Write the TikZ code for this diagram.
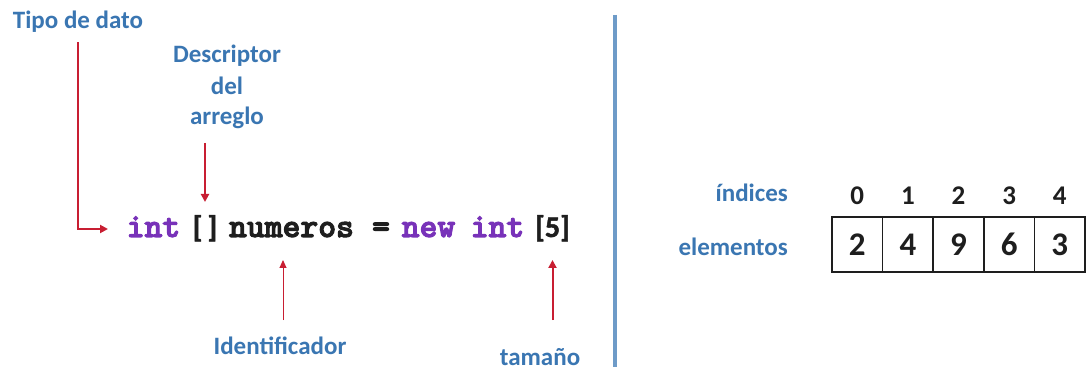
\documentclass[tikz,border=0pt]{standalone}
\usepackage{fontspec}
\setmainfont{Carlito}
\newfontfamily\codefont[FakeBold=3]{lmmonolt10-bold.otf}
\newfontfamily\brfont[FakeBold=1.5]{Carlito}
\usetikzlibrary{arrows.meta,calc}
\definecolor{lblue}{RGB}{58,118,178}
\definecolor{sepblue}{RGB}{110,155,200}
\definecolor{arrred}{RGB}{200,30,50}
\definecolor{kw}{RGB}{120,50,185}
\definecolor{ink}{RGB}{30,30,30}
\begin{document}
\begin{tikzpicture}[x=1pt,y=-1pt,
  lbl/.style={font=\fontsize{25}{28}\selectfont\bfseries, text=lblue, inner sep=0pt, anchor=base},
  codetok/.style={font=\codefont\fontsize{34}{34}\selectfont, inner sep=0pt, anchor=base, text=ink},
  punct/.style={font=\brfont\fontsize{30}{30}\selectfont\bfseries, inner sep=0pt, anchor=base, text=ink},
  redarrow/.style={draw=arrred, line width=2pt, -{Triangle[length=8pt,width=8pt]}},
  thinarrow/.style={draw=arrred, line width=1pt, -{Triangle[length=8pt,width=7pt]}},
  cell/.style={draw=ink, line width=1.5pt, minimum width=50.6pt, minimum height=55pt, inner sep=0pt, font=\fontsize{33}{33}\selectfont\bfseries, text=ink},
  idx/.style={font=\fontsize{27}{27}\selectfont\bfseries, text=ink, inner sep=0pt, anchor=base}
]
\useasboundingbox[fill=white] (0,0) rectangle (1089,371);

% labels
\node[lbl] (tipo) at (78,29) {Tipo de dato};
\node[lbl] (desc1) at (227,63) {Descriptor};
\node[lbl] (desc2) at (227,95) {del};
\node[lbl] (desc3) at (227,125) {arreglo};
\node[lbl] (ident) at (280,354) {Identificador};
\node[lbl] (tam) at (540,365) {tamaño};

% code line
\node[codetok, text=kw] (int1) at (153.5,237) {int};
\node[punct] (br1) at (205,237) {[\hspace{5pt}]};
\node[codetok] (num) at (291.5,237) {numeros};
\node[codetok] (eq) at (381,237) {=};
\node[codetok, text=kw] (new) at (428.5,237) {new};
\node[codetok, text=kw] (int2) at (497.5,237) {int};
\node[punct] (size) at (552.5,237) {[5]};

% arrows
\draw[redarrow] ([yshift=-9pt]tipo.south) |- ($(int1.base)+(-45.5,-8)$);
\draw[redarrow] ($(br1.base |- desc3.base)+(0,18)$) -- ($(br1.base)+(0,-35)$);
\draw[thinarrow] ($(num.base)+(-8.5,83)$) -- ($(num.base)+(-8.5,23)$);
\draw[redarrow] ($(size.base)+(0,83)$) -- ($(size.base)+(0,23)$);

% separator
\draw[draw=sepblue, line width=4pt] (615,15) -- (615,367);

% array
\node[lbl, anchor=base east] (ind) at (788,202) {índices};
\node[lbl, anchor=base east] (elem) at (788,256) {elementos};
\node[cell] (c0) at (857.3,244.5) {2};
\node[cell] (c1) at (907.9,244.5) {4};
\node[cell] (c2) at (958.5,244.5) {9};
\node[cell] (c3) at (1009.1,244.5) {6};
\node[cell] (c4) at (1059.7,244.5) {3};
\node[idx] (i0) at (857.3,205) {0};
\node[idx] (i1) at (907.9,205) {1};
\node[idx] (i2) at (958.5,205) {2};
\node[idx] (i3) at (1009.1,205) {3};
\node[idx] (i4) at (1059.7,205) {4};
\end{tikzpicture}
\end{document}
